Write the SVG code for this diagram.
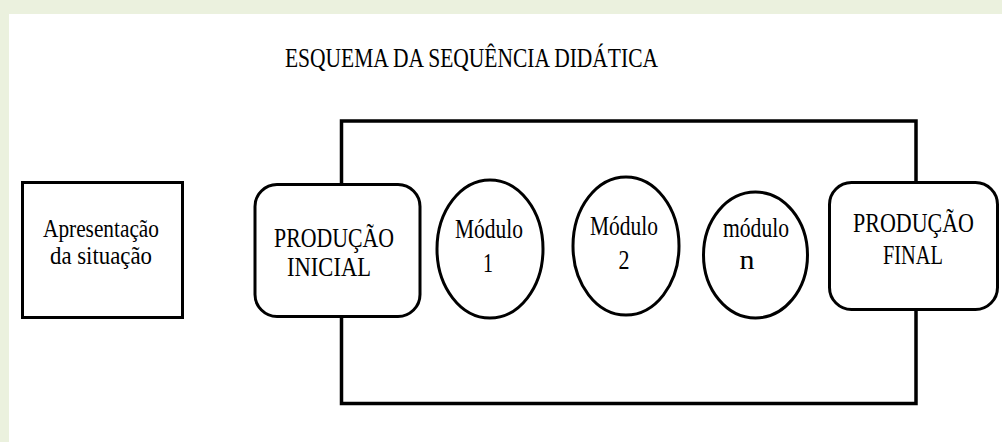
<svg xmlns="http://www.w3.org/2000/svg" width="1002" height="442" viewBox="0 0 1002 442">
<style>
.shape{fill:#fff;stroke:#000;stroke-width:3}
.conn{fill:none;stroke:#000;stroke-width:3.5}
.t{font-family:'Liberation Serif','Times New Roman','DejaVu Serif',serif;font-size:28px;fill:#000;text-anchor:middle}
</style>
<rect x="0" y="0" width="1002" height="442" fill="#ebf1de"/>
<rect x="9" y="14" width="993" height="428" fill="#fff"/>
<text class="t" x="471.5" y="67" textLength="373" lengthAdjust="spacingAndGlyphs">ESQUEMA DA SEQUÊNCIA DIDÁTICA</text>
<g id="connectors">
<path class="conn" d="M341.5,185 V121 H916 V183"/>
<path class="conn" d="M341.5,316 V403.5 H916 V309"/>
</g>
<g id="apresentacao">
<rect class="shape" x="22.5" y="182.5" width="160" height="135"/>
<text class="t" x="101" y="237" textLength="116" lengthAdjust="spacingAndGlyphs" style="font-size:25px">Apresentação</text>
<text class="t" x="101" y="264" textLength="102" lengthAdjust="spacingAndGlyphs" style="font-size:25px">da situação</text>
</g>
<g id="producao-inicial">
<rect class="shape" x="255" y="184.5" width="165" height="132" rx="22" ry="22"/>
<text class="t" x="334" y="247" textLength="120" lengthAdjust="spacingAndGlyphs">PRODUÇÃO</text>
<text class="t" x="329" y="276" textLength="84" lengthAdjust="spacingAndGlyphs">INICIAL</text>
</g>
<g id="modulo-1">
<ellipse class="shape" cx="490" cy="249" rx="53" ry="69"/>
<text class="t" x="489" y="238" textLength="68" lengthAdjust="spacingAndGlyphs">Módulo</text>
<text class="t" x="488" y="272" textLength="10" lengthAdjust="spacingAndGlyphs">1</text>
</g>
<g id="modulo-2">
<ellipse class="shape" cx="626" cy="246" rx="53" ry="69"/>
<text class="t" x="624" y="235" textLength="68" lengthAdjust="spacingAndGlyphs">Módulo</text>
<text class="t" x="624" y="269" textLength="11" lengthAdjust="spacingAndGlyphs">2</text>
</g>
<g id="modulo-n">
<ellipse class="shape" cx="755.5" cy="255" rx="52" ry="63"/>
<text class="t" x="756" y="237" textLength="66" lengthAdjust="spacingAndGlyphs">módulo</text>
<text class="t" x="747" y="269" textLength="15" lengthAdjust="spacingAndGlyphs">n</text>
</g>
<g id="producao-final">
<rect class="shape" x="829.5" y="182.5" width="168" height="127" rx="22" ry="22"/>
<text class="t" x="913.5" y="232" textLength="121" lengthAdjust="spacingAndGlyphs">PRODUÇÃO</text>
<text class="t" x="913" y="264" textLength="60" lengthAdjust="spacingAndGlyphs">FINAL</text>
</g>
</svg>
